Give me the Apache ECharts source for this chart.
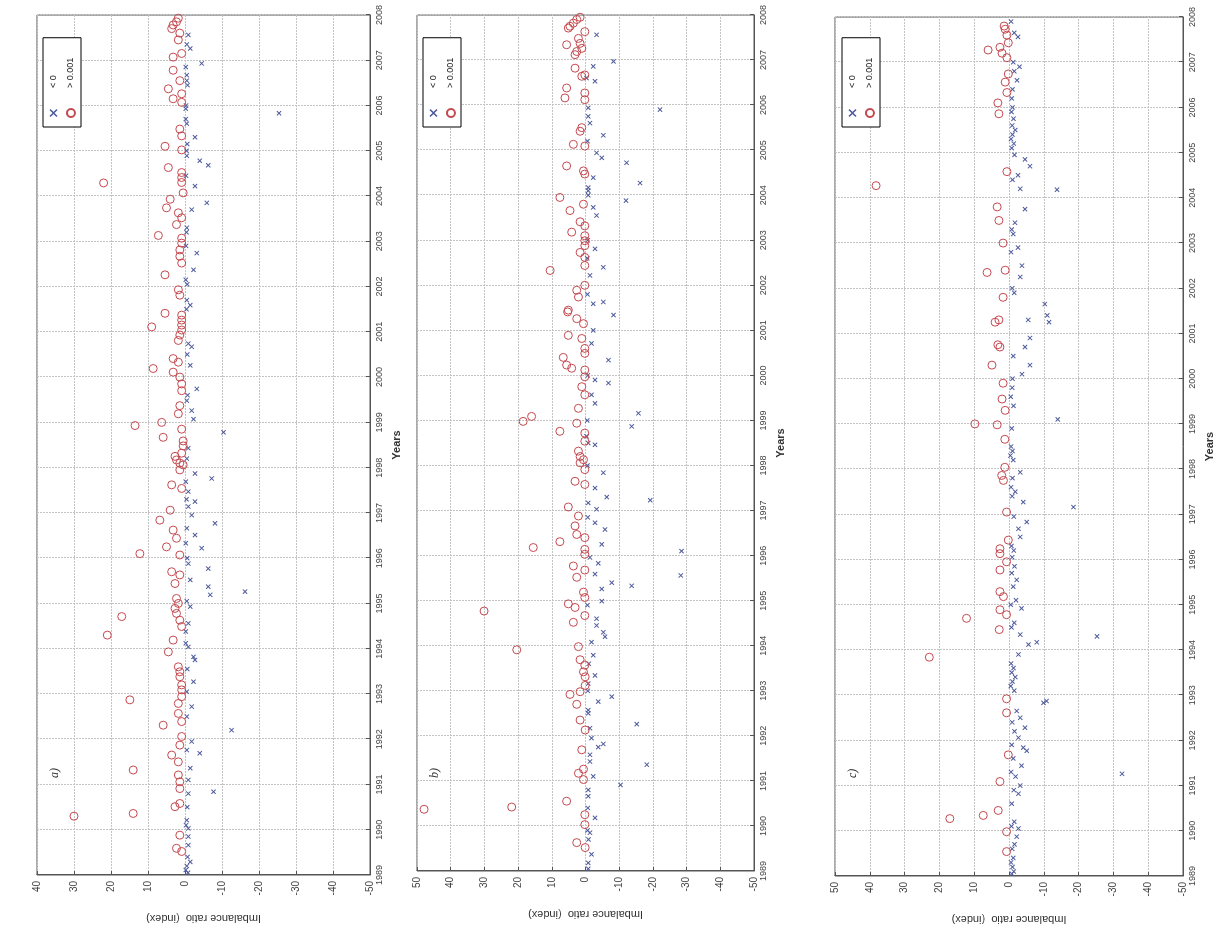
<!DOCTYPE html>
<html>
<head>
<meta charset="utf-8">
<title>Imbalance ratio</title>
<script src="https://cdn.jsdelivr.net/npm/echarts@6/dist/echarts.min.js"></script>
<style>
html,body{margin:0;padding:0;background:#fff;overflow:hidden;width:1224px;height:933px;}
/* the figure is printed turned a quarter turn, so the chart is drawn upright and turned */
#wrap{position:absolute;left:0;top:933px;width:933px;height:1224px;transform-origin:0 0;transform:rotate(-90deg);}
</style>
</head>
<body>
<div id="wrap"></div>
<script>
var panelNames=["a)","b)","c)"];
var valueMax=[40,50,50];
var yearTicks=[1989,2008];

// [year, imbalance ratio]  circles: > 0.001 , crosses: < 0
var aCircle=[[2007.93,1.8],[2007.85,2.3],[2007.78,3.2],[2007.70,3.6],[2007.60,1.4],[2007.45,1.8],[2007.15,0.9],[2007.07,3.2],[2006.78,3.2],[2006.55,1.4],[2006.37,4.5],[2006.26,0.9],[2006.15,3.2],[2006.07,0.9],[2005.48,1.4],[2005.33,0.9],[2005.10,5.4],[2005.02,0.9],[2004.63,4.5],[2004.52,0.9],[2004.41,0.9],[2004.30,0.9],[2004.29,22],[2004.07,0.5],[2003.93,4.0],[2003.74,5.0],[2003.63,1.8],[2003.52,0.9],[2003.37,2.3],[2003.13,7.2],[2003.07,0.9],[2002.96,0.9],[2002.81,1.4],[2002.67,1.4],[2002.52,0.9],[2002.26,5.4],[2001.93,1.8],[2001.81,1.4],[2001.41,5.4],[2001.11,9.0],[2001.37,0.9],[2001.26,0.9],[2001.15,0.9],[2001.04,0.9],[2000.93,1.4],[2000.81,1.8],[2000.41,3.2],[2000.33,1.8],[2000.19,8.6],[2000.11,3.2],[2000.00,1.4],[1999.85,0.9],[1999.70,0.9],[1999.37,1.4],[1999.19,1.8],[1998.93,13.5],[1999.00,6.3],[1998.67,5.9],[1998.85,0.9],[1998.59,0.5],[1998.48,0.5],[1998.32,0.9],[1998.25,2.7],[1998.17,2.3],[1998.10,1.4],[1998.06,0.5],[1997.95,1.4],[1997.62,3.6],[1997.54,0.9],[1997.06,4.0],[1996.84,6.8],[1996.62,3.2],[1996.44,2.3],[1996.25,5.0],[1996.10,12.2],[1996.07,1.4],[1995.70,3.6],[1995.63,1.4],[1995.44,2.7],[1995.11,2.3],[1995.00,1.8],[1994.89,2.7],[1994.78,2.3],[1994.63,1.4],[1994.49,0.9],[1994.71,17.1],[1994.30,21],[1994.19,3.2],[1993.93,4.5],[1993.60,1.8],[1993.49,1.4],[1993.38,1.4],[1993.20,0.9],[1993.09,0.9],[1992.94,0.9],[1992.79,1.8],[1992.57,1.8],[1992.39,0.9],[1992.87,14.9],[1992.31,5.9],[1992.06,0.9],[1991.87,1.4],[1991.65,3.6],[1991.50,1.8],[1991.32,14.0],[1991.21,1.8],[1991.06,1.4],[1990.91,1.4],[1990.58,1.4],[1990.51,2.7],[1990.36,14.0],[1990.30,30],[1989.88,1.4],[1989.59,2.3],[1989.52,0.9]];
var aCross=[[2007.56,-0.9],[2007.35,-0.5],[2007.26,-1.4],[2006.93,-4.5],[2006.85,-0.2],[2006.67,-0.5],[2006.55,-0.5],[2006.45,-0.7],[2006.00,-0.3],[2005.93,-0.2],[2005.83,-25.4],[2005.70,-0.2],[2005.60,-0.5],[2005.30,-2.7],[2005.15,-0.6],[2005.00,-0.4],[2004.89,-0.5],[2004.78,-4.0],[2004.68,-6.3],[2004.45,-0.3],[2004.22,-2.7],[2003.85,-5.9],[2003.70,-1.8],[2003.30,-0.5],[2003.20,-0.4],[2002.90,-0.3],[2002.74,-3.2],[2002.37,-2.3],[2002.15,-0.2],[2002.05,-0.6],[2001.70,-0.5],[2001.59,-1.4],[2001.50,-0.4],[2000.74,-0.9],[2000.67,-1.8],[2000.50,-0.6],[2000.26,-1.4],[1999.74,-3.2],[1999.60,-0.7],[1999.48,-0.5],[1999.26,-1.8],[1999.07,-2.3],[1998.78,-10.4],[1998.43,-0.9],[1998.20,-0.5],[1997.87,-2.7],[1997.76,-7.2],[1997.69,-0.2],[1997.47,-0.9],[1997.30,-0.4],[1997.25,-2.7],[1997.14,-0.9],[1996.95,-1.8],[1996.77,-8.1],[1996.66,-0.5],[1996.51,-2.7],[1996.33,-0.2],[1996.22,-4.5],[1996.00,-0.6],[1995.88,-0.9],[1995.77,-6.3],[1995.52,-1.4],[1995.37,-6.3],[1995.26,-16.2],[1995.19,-6.8],[1995.05,-0.5],[1994.93,-1.4],[1994.56,-0.9],[1994.38,-0.2],[1994.12,-0.2],[1994.04,-0.9],[1993.82,-2.3],[1993.75,-2.7],[1993.55,-0.6],[1993.27,-2.3],[1993.05,-0.5],[1992.72,-1.8],[1992.50,-0.5],[1992.20,-12.6],[1991.95,-1.8],[1991.76,-0.5],[1991.69,-4.0],[1991.36,-1.4],[1991.10,-0.9],[1990.84,-7.7],[1990.80,-0.9],[1990.50,-0.6],[1990.21,-0.5],[1990.10,-0.3],[1990.03,-0.9],[1989.85,-0.9],[1989.66,-0.9],[1989.40,-0.7],[1989.29,-1.4],[1989.20,-0.5],[1989.11,-0.2],[1989.05,-0.8]];

var bCircle=[[2007.95,1.6],[2007.90,2.6],[2007.82,3.6],[2007.75,4.6],[2007.71,5.1],[2007.63,0.2],[2007.48,2.1],[2007.37,1.6],[2007.34,5.6],[2007.26,1.1],[2007.19,2.6],[2007.12,3.1],[2006.82,3.1],[2006.67,0.2],[2006.64,1.1],[2006.38,5.6],[2006.27,0.2],[2006.16,6.1],[2006.12,0.2],[2005.50,1.1],[2005.42,1.6],[2005.13,3.6],[2005.09,0.2],[2004.65,5.6],[2004.54,0.6],[2004.47,0.2],[2003.95,7.6],[2003.80,0.6],[2003.66,4.6],[2003.41,1.6],[2003.32,0.2],[2003.18,4.1],[2003.10,0.2],[2002.99,0.2],[2002.88,0.2],[2002.73,1.6],[2002.62,0.2],[2002.44,0.2],[2002.33,10.5],[2002.00,0.2],[2001.89,2.6],[2001.74,2.1],[2001.45,5.1],[2001.41,5.3],[2001.26,2.6],[2001.15,0.6],[2000.89,5.1],[2000.82,1.1],[2000.60,0.2],[2000.49,0.2],[2000.40,6.6],[2000.23,5.6],[2000.16,4.1],[2000.12,0.2],[1999.97,0.2],[1999.75,1.1],[1999.57,0.2],[1999.27,2.1],[1999.09,16.0],[1998.98,18.5],[1998.94,2.6],[1998.76,7.6],[1998.72,0.2],[1998.54,0.2],[1998.32,2.1],[1998.20,1.6],[1998.13,0.6],[1998.06,1.6],[1997.91,0.2],[1997.65,3.1],[1997.58,0.2],[1997.08,5.1],[1996.88,2.1],[1996.66,3.1],[1996.47,2.6],[1996.40,0.2],[1996.31,7.6],[1996.18,15.5],[1996.14,0.2],[1996.03,0.2],[1995.77,3.6],[1995.68,0.2],[1995.52,2.6],[1995.19,0.6],[1995.07,0.2],[1994.93,5.1],[1994.85,3.1],[1994.77,30.1],[1994.67,0.2],[1994.52,3.6],[1993.98,2.1],[1993.91,20.4],[1993.69,1.6],[1993.57,0.2],[1993.42,0.6],[1993.31,0.1],[1993.12,0.1],[1992.98,1.6],[1992.92,4.6],[1992.70,2.6],[1992.35,1.6],[1992.13,0.1],[1991.69,1.1],[1991.26,0.6],[1991.17,2.1],[1991.03,0.6],[1990.55,5.6],[1990.42,21.9],[1990.37,47.9],[1990.25,0.2],[1990.03,0.2],[1989.63,2.6],[1989.52,0.1]];
var bCross=[[2007.56,-3.3],[2006.97,-8.3],[2006.86,-2.3],[2006.60,-0.3],[2006.53,-2.8],[2005.94,-0.8],[2005.90,-22.1],[2005.75,-0.8],[2005.60,-1.3],[2005.33,-5.3],[2005.20,-0.6],[2004.94,-3.3],[2004.83,-4.8],[2004.72,-12.2],[2004.39,-2.3],[2004.27,-16.2],[2004.17,-0.8],[2004.10,-0.8],[2004.00,-0.8],[2003.88,-12.0],[2003.73,-2.3],[2003.55,-3.3],[2003.00,-0.7],[2002.81,-2.8],[2002.60,-0.5],[2002.40,-5.3],[2002.22,-1.3],[2001.80,-0.6],[2001.63,-5.3],[2001.59,-2.3],[2001.34,-8.3],[2001.00,-2.3],[2000.71,-1.8],[2000.34,-6.8],[2000.00,-0.7],[1999.90,-2.8],[1999.83,-6.8],[1999.57,-1.8],[1999.38,-2.8],[1999.16,-15.7],[1999.00,-0.5],[1998.87,-13.7],[1998.65,-0.3],[1998.50,-0.8],[1998.46,-2.8],[1998.00,-0.6],[1997.84,-5.3],[1997.50,-2.8],[1997.30,-6.3],[1997.23,-19.2],[1997.17,-0.8],[1997.03,-3.3],[1996.85,-0.7],[1996.73,-2.8],[1996.58,-5.8],[1996.25,-4.8],[1996.10,-28.5],[1995.96,-1.3],[1995.83,-3.8],[1995.59,-2.8],[1995.56,-28.3],[1995.40,-7.8],[1995.33,-13.7],[1995.26,-4.8],[1994.99,-4.8],[1994.90,-0.6],[1994.60,-3.3],[1994.45,-3.3],[1994.30,-5.3],[1994.20,-5.8],[1994.08,-1.8],[1993.79,-2.3],[1993.60,-1.0],[1993.34,-2.8],[1993.16,-0.8],[1993.00,-0.7],[1992.87,-7.8],[1992.76,-3.8],[1992.57,-0.8],[1992.50,-0.8],[1992.26,-15.2],[1992.17,-1.3],[1991.95,-1.8],[1991.82,-5.3],[1991.75,-3.8],[1991.58,-1.3],[1991.43,-1.3],[1991.36,-18.2],[1991.10,-2.3],[1990.91,-10.4],[1990.80,-0.8],[1990.66,-0.8],[1990.40,-0.7],[1990.18,-2.8],[1989.90,-0.6],[1989.85,-1.3],[1989.70,-0.9],[1989.37,-1.8],[1989.18,-0.8],[1989.05,-0.8]];

var cCircle=[[2007.80,1.4],[2007.73,1.1],[2007.60,0.6],[2007.43,0.2],[2007.33,2.6],[2007.27,6.0],[2007.20,2.0],[2007.10,0.6],[2006.74,0.2],[2006.56,1.1],[2006.33,0.6],[2006.10,3.2],[2005.86,2.9],[2004.58,0.6],[2004.27,38.2],[2003.80,3.4],[2003.50,2.9],[2003.00,1.7],[2002.40,1.1],[2002.35,6.3],[2001.80,1.7],[2001.30,2.9],[2001.25,4.0],[2000.75,3.2],[2000.70,2.6],[2000.30,4.9],[1999.90,1.7],[1999.55,2.0],[1999.30,1.1],[1999.00,9.8],[1998.98,3.4],[1998.66,1.2],[1998.04,1.2],[1997.86,2.1],[1997.75,1.6],[1997.05,0.7],[1996.43,0.2],[1996.24,2.6],[1996.13,2.6],[1995.95,0.7],[1995.77,2.6],[1995.29,2.6],[1995.18,1.6],[1994.89,2.6],[1994.78,0.7],[1994.70,12.2],[1994.45,2.8],[1993.84,22.9],[1992.92,0.7],[1992.61,0.7],[1991.68,0.2],[1991.09,2.6],[1990.45,3.1],[1990.34,7.4],[1990.27,17.0],[1989.98,0.7],[1989.54,0.7]];
var cCross=[[2007.90,-0.6],[2007.65,-1.5],[2007.56,-2.6],[2007.00,-1.2],[2006.90,-3.0],[2006.80,-1.5],[2006.60,-2.3],[2006.40,-1.0],[2006.20,-0.8],[2006.00,-1.0],[2005.90,-0.7],[2005.75,-1.3],[2005.60,-0.9],[2005.50,-1.8],[2005.40,-1.0],[2005.30,-0.6],[2005.20,-1.4],[2005.10,-0.8],[2004.95,-1.6],[2004.85,-4.6],[2004.70,-6.0],[2004.50,-2.6],[2004.40,-1.0],[2004.20,-3.2],[2004.18,-13.8],[2003.75,-4.6],[2003.45,-1.7],[2003.30,-0.8],[2003.20,-1.2],[2002.90,-2.6],[2002.80,-0.6],[2002.50,-3.7],[2002.25,-3.2],[2002.00,-0.9],[2001.90,-1.5],[2001.65,-10.3],[2001.40,-11.0],[2001.30,-5.5],[2001.25,-11.5],[2000.90,-6.0],[2000.70,-4.6],[2000.50,-1.2],[2000.30,-6.0],[2000.10,-3.7],[2000.00,-1.0],[1999.80,-0.9],[1999.60,-0.5],[1999.40,-1.3],[1999.10,-14.0],[1998.90,-0.8],[1998.50,-0.6],[1998.40,-1.0],[1998.30,-0.4],[1998.20,-1.2],[1997.93,-3.2],[1997.80,-1.0],[1997.60,-0.6],[1997.50,-1.8],[1997.40,-0.9],[1997.27,-4.1],[1997.16,-18.5],[1996.95,-1.4],[1996.83,-5.1],[1996.68,-2.7],[1996.50,-3.2],[1996.30,-0.7],[1996.20,-1.4],[1996.05,-0.9],[1995.85,-1.6],[1995.70,-0.8],[1995.55,-2.2],[1995.40,-1.2],[1995.10,-2.0],[1995.00,-0.5],[1994.92,-3.6],[1994.60,-1.5],[1994.50,-0.7],[1994.34,-3.2],[1994.30,-25.3],[1994.17,-8.0],[1994.12,-5.6],[1993.90,-2.7],[1993.70,-0.6],[1993.60,-1.3],[1993.50,-0.8],[1993.40,-1.8],[1993.30,-1.0],[1993.20,-0.5],[1993.10,-1.5],[1992.87,-10.8],[1992.83,-9.9],[1992.65,-2.2],[1992.50,-3.2],[1992.40,-0.9],[1992.28,-4.6],[1992.20,-1.6],[1992.06,-2.7],[1991.90,-0.8],[1991.84,-4.1],[1991.77,-5.1],[1991.60,-1.2],[1991.44,-3.6],[1991.30,-0.6],[1991.26,-32.5],[1991.20,-1.9],[1991.00,-3.2],[1990.90,-1.4],[1990.82,-2.7],[1990.60,-0.8],[1990.20,-1.5],[1990.10,-0.7],[1990.05,-2.7],[1989.87,-2.2],[1989.70,-1.6],[1989.60,-0.9],[1989.40,-1.2],[1989.30,-0.6],[1989.20,-1.0],[1989.10,-1.4],[1989.05,-0.8]];

var circles=[aCircle,bCircle,cCircle];
var crosses=[aCross,bCross,cCross];
// plot boxes, in the upright drawing
var grids=[
	{left:58,right:15,top:37,height:333},
	{left:62,right:15,top:417,height:337},
	{left:52,right:17,top:835,height:348}
];
var legendTop=[43,423,842];

var crossPath='path://M0,1.4L1.4,0L5,3.6L8.6,0L10,1.4L6.4,5L10,8.6L8.6,10L5,6.4L1.4,10L0,8.6L3.6,5Z';
var fontFam='"Liberation Sans", Arial, sans-serif';

var option={
	animation:false,
	backgroundColor:'#fff',
	grid:[],xAxis:[],yAxis:[],series:[],legend:[],graphic:[]
};
for(var i=0;i<3;i++){
	option.grid.push({left:grids[i].left,right:grids[i].right,top:grids[i].top,height:grids[i].height,show:true,borderColor:'#555',borderWidth:1,backgroundColor:'#fff'});
	option.xAxis.push({
		gridIndex:i,type:'value',min:yearTicks[0],max:yearTicks[1],interval:1,
		name:'Years',nameLocation:'middle',nameGap:21,
		nameTextStyle:{fontFamily:fontFam,fontSize:11,fontWeight:'bold',color:'#333'},
		axisLine:{show:true,onZero:false,lineStyle:{color:'#555'}},
		axisTick:{show:true,inside:true,length:4,lineStyle:{color:'#555'}},
		axisLabel:{fontFamily:fontFam,fontSize:9,color:'#444',margin:5,formatter:function(v){return String(v);}},
		splitLine:{show:true,lineStyle:{color:'#c4c4c4',type:[2,1],width:1}}
	});
	option.yAxis.push({
		gridIndex:i,type:'value',min:-50,max:valueMax[i],interval:10,
		name:'Imbalance ratio  (index)',nameLocation:'middle',nameGap:38,
		nameTextStyle:{fontFamily:fontFam,fontSize:11,color:'#333'},
		axisLine:{show:true,onZero:false,lineStyle:{color:'#555'}},
		axisTick:{show:true,inside:true,length:4,lineStyle:{color:'#555'}},
		axisLabel:{fontFamily:fontFam,fontSize:10,color:'#444',margin:6},
		splitLine:{show:true,lineStyle:{color:'#c4c4c4',type:[2,1],width:1}}
	});
	option.series.push({
		name:'< 0',type:'scatter',xAxisIndex:i,yAxisIndex:i,
		symbol:crossPath,symbolSize:5,symbolKeepAspect:true,
		itemStyle:{color:'#4d5a9c',opacity:1},
		data:crosses[i],z:3
	});
	option.series.push({
		name:'> 0.001',type:'scatter',xAxisIndex:i,yAxisIndex:i,
		symbol:'circle',symbolSize:8,
		itemStyle:{color:'rgba(255,255,255,0)',borderColor:'#c4494f',borderWidth:1,opacity:1},
		data:circles[i],z:4
	});
	option.legend.push({
		left:806,top:legendTop[i],orient:'vertical',selectedMode:false,
		data:['< 0','> 0.001'],
		itemWidth:40,itemHeight:8,itemGap:8,symbolKeepAspect:true,
		padding:[6,20,5,9],
		borderColor:'#000',borderWidth:1,backgroundColor:'#fff',
		textStyle:{fontFamily:fontFam,fontSize:9,color:'#222'}
	});
	option.graphic.push({
		type:'text',left:155,top:grids[i].top+12,
		style:{text:panelNames[i],font:'italic 12px "Liberation Serif", serif',fill:'#333'}
	});
}

var myChart=echarts.init(document.getElementById('wrap'));
myChart.setOption(option);
</script>
</body>
</html>
